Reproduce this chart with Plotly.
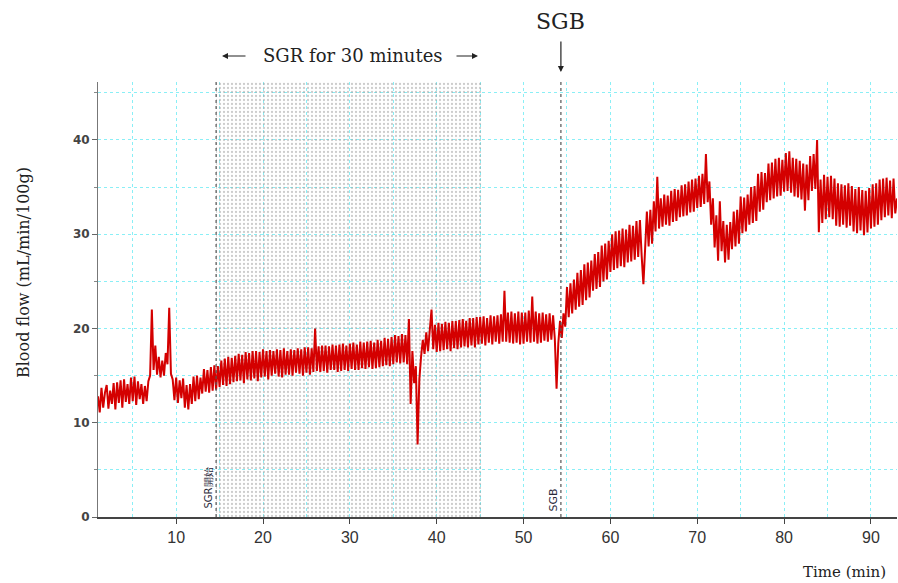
import plotly.graph_objects as go

# ---- data ----
t_start, t_step = 1.0, 0.2
flow = [
    12.8, 11.1, 13.7, 11.6, 13.2,
    14.0, 11.5, 13.4, 12.0, 14.2,
    11.4, 14.3, 12.1, 14.5, 11.6,
    14.6, 12.2, 14.1, 12.0, 14.8,
    12.3, 14.9, 11.9, 14.4, 12.5,
    14.1, 12.0, 13.9, 12.3, 14.4,
    15.0, 22.0, 15.6, 18.2, 15.1,
    17.0, 14.8, 16.6, 15.0, 17.4,
    16.2, 22.2, 15.2, 14.6, 12.4,
    14.8, 12.1, 14.5, 12.6, 14.7,
    11.6, 14.0, 11.4, 14.1, 12.0,
    14.9, 12.3, 15.0, 12.5, 14.8,
    13.1, 15.7, 13.3, 15.6, 13.2,
    15.9, 13.4, 16.1, 13.5, 16.0,
    13.8, 16.6, 14.0, 16.8, 13.9,
    17.0, 14.1, 16.9, 14.3, 17.1,
    14.4, 17.3, 14.5, 17.2, 14.2,
    17.5, 14.6, 17.4, 14.5, 17.6,
    14.7, 17.6, 14.4, 17.5, 14.8,
    17.8, 14.9, 17.6, 14.6, 17.7,
    15.0, 17.6, 15.2, 17.8, 14.9,
    17.7, 14.8, 17.9, 15.1, 17.6,
    15.1, 17.8, 15.0, 17.7, 15.3,
    17.9, 15.2, 17.8, 15.0, 18.0,
    15.3, 18.0, 15.1, 17.9, 15.4,
    20.0, 15.5, 18.1, 15.4, 18.2,
    15.5, 18.2, 15.3, 18.1, 15.6,
    18.3, 15.6, 18.2, 15.4, 18.3,
    15.5, 18.4, 15.6, 18.2, 15.5,
    18.4, 15.7, 18.5, 15.6, 18.3,
    15.6, 18.6, 15.8, 18.5, 15.7,
    18.6, 15.9, 18.7, 15.7, 18.5,
    15.8, 18.8, 15.9, 18.7, 16.0,
    19.0, 16.1, 18.9, 16.0, 19.1,
    16.2, 19.3, 16.4, 19.2, 16.3,
    19.4, 16.4, 19.3, 16.2, 21.0,
    12.0, 17.6, 14.2, 16.0, 7.7,
    14.6, 17.0, 18.8, 17.3, 19.6,
    17.6, 19.9, 22.0, 17.8, 20.4,
    17.5, 20.6, 17.6, 20.5, 17.7,
    20.7, 17.8, 20.6, 17.6, 20.8,
    17.9, 20.8, 17.8, 20.9, 18.0,
    21.0, 18.1, 20.8, 18.0, 21.1,
    18.2, 21.1, 18.0, 21.2, 18.3,
    21.2, 18.4, 21.3, 18.2, 21.1,
    18.5, 21.4, 18.3, 21.3, 18.6,
    21.4, 18.4, 21.5, 18.6, 24.0,
    18.6, 21.7, 18.5, 21.8, 18.4,
    21.6, 18.5, 21.8, 18.3, 21.7,
    18.4, 21.7, 18.6, 21.9, 18.5,
    23.4, 18.6, 21.8, 18.4, 21.6,
    18.5, 21.7, 18.7, 21.5, 18.6,
    21.6, 18.8, 21.4, 18.9, 13.6,
    18.4, 20.8, 19.0, 21.6, 20.2,
    24.4, 21.2, 24.8, 21.6, 25.2,
    22.0, 25.9, 22.3, 26.2, 22.5,
    26.8, 23.0, 27.0, 23.3, 27.2,
    24.0, 27.9, 24.2, 28.1, 24.4,
    28.8, 25.0, 29.0, 25.2, 29.3,
    26.0, 30.0, 26.2, 30.3, 26.4,
    30.4, 26.6, 30.6, 26.5, 30.5,
    27.0, 31.0, 27.1, 30.9, 27.3,
    31.4, 27.6, 31.5, 27.7, 24.7,
    28.5, 32.4, 28.7, 32.6, 29.0,
    33.5, 30.3, 36.1, 30.6, 33.8,
    30.8, 34.2, 31.0, 34.1, 30.9,
    34.6, 31.3, 34.8, 31.4, 34.7,
    31.8, 35.2, 31.9, 35.3, 32.0,
    35.6, 32.3, 35.8, 32.4, 35.9,
    32.8, 36.2, 32.9, 36.4, 33.2,
    38.5, 33.4, 35.6, 31.0, 33.8,
    28.6, 32.0, 27.2, 33.5, 28.2,
    31.4, 27.0, 31.0, 27.3, 31.3,
    28.4, 32.4, 28.7, 32.6, 29.0,
    34.0, 30.1, 33.9, 30.3, 34.2,
    31.0, 35.0, 31.2, 35.1, 31.4,
    36.4, 32.4, 36.6, 32.6, 36.5,
    33.4, 37.5, 33.6, 37.6, 33.8,
    38.0, 34.0, 38.1, 34.1, 37.9,
    34.5, 38.6, 34.6, 38.8, 34.4,
    38.1, 34.0, 38.0, 33.9, 37.8,
    33.7, 37.5, 32.5, 37.4, 33.6,
    38.3, 34.6, 38.5, 34.8, 40.0,
    30.2, 35.8, 31.2, 36.3, 31.6,
    36.1, 31.8, 36.2, 31.6, 35.9,
    30.9, 35.4, 30.8, 35.3, 31.0,
    35.2, 30.7, 35.4, 30.9, 35.1,
    30.3, 34.8, 30.1, 35.0, 30.4,
    34.7, 29.9, 34.6, 30.2, 34.9,
    30.6, 35.3, 30.8, 35.4, 31.0,
    35.8, 31.5, 35.9, 31.8, 36.0,
    32.0, 35.7, 31.7, 35.9, 32.2,
    33.8,
]
time = [t_start + i * t_step for i in range(len(flow))]

sgr_start, sgr_end = 14.6, 45.1
sgb_time = 54.3
x_ticks = [10, 20, 30, 40, 50, 60, 70, 80, 90]
y_ticks = [0, 10, 20, 30, 40]
x_range = [1, 93]
y_range = [0, 46.15]

serif = "DejaVu Serif"
grid_col = "rgba(60,228,240,0.6)"

fig = go.Figure()

# dotted shaded SGR period
fig.add_trace(go.Scatter(
    x=[sgr_start, sgr_end, sgr_end, sgr_start, sgr_start],
    y=[y_range[0], y_range[0], y_range[1], y_range[1], y_range[0]],
    mode="lines", fill="toself", line=dict(width=0),
    fillcolor="rgba(0,0,0,0)",
    fillpattern=dict(shape=".", fgcolor="#9a9a9a", bgcolor="rgba(0,0,0,0)",
                     size=4, solidity=0.25),
    hoverinfo="skip", showlegend=False))

fig.add_trace(go.Scatter(
    x=time, y=flow, mode="lines",
    line=dict(color="#d40000", width=2.0),
    showlegend=False))

fig.update_layout(
    width=898, height=583,
    margin=dict(l=98, r=1, t=82, b=66),
    paper_bgcolor="white", plot_bgcolor="white",
    xaxis=dict(range=x_range, tickvals=x_ticks, ticktext=[str(v) for v in x_ticks],
               showgrid=False, zeroline=False,
               showline=True, linecolor="#444", linewidth=1.5,
               ticks="outside", ticklen=5, tickcolor="#444",
               tickfont=dict(family="Liberation Sans", size=16, color="#333"),
               minor=dict(dtick=5, tick0=0, showgrid=True, gridcolor=grid_col,
                          griddash="dot", gridwidth=1, ticks="")),
    yaxis=dict(range=y_range, tickvals=y_ticks, ticktext=[str(v) for v in y_ticks],
               showgrid=False, zeroline=False,
               showline=True, linecolor="#777", linewidth=1,
               ticks="outside", ticklen=5, tickcolor="#666",
               tickfont=dict(family="DejaVu Sans", size=12, color="#444", weight="bold"),
               minor=dict(dtick=5, tick0=0, showgrid=True, gridcolor=grid_col,
                          griddash="dot", gridwidth=1, ticks="outside", ticklen=3,
                          tickcolor="#888")),
)

# vertical event markers
for xv in [sgr_start, sgb_time]:
    fig.add_shape(type="line", x0=xv, x1=xv, y0=0, y1=1, xref="x", yref="paper",
                  line=dict(color="#555", width=1.2, dash="dot"), layer="above")

ann = []
ann.append(dict(text="Blood flow (mL/min/100g)", xref="paper", yref="paper",
                x=(23 - 98) / 799, y=(517 - 273) / 435, textangle=-90,
                showarrow=False, font=dict(family=serif, size=16, color="#222"),
                xanchor="center", yanchor="middle"))
ann.append(dict(text="Time (min)", xref="paper", yref="paper",
                x=(888 - 98) / 799, y=(517 - 572) / 435, showarrow=False,
                font=dict(family=serif, size=15, color="#222"),
                xanchor="right", yanchor="middle"))
ann.append(dict(text="SGR for 30 minutes", xref="paper", yref="paper",
                x=(353 - 98) / 799, y=(517 - 55) / 435, showarrow=False,
                font=dict(family=serif, size=18, color="#222"),
                xanchor="center", yanchor="middle"))
# side arrows of the SGR label
ann.append(dict(text="", xref="paper", yref="paper",
                x=(222 - 98) / 799, y=(517 - 56) / 435, ax=25, ay=0,
                showarrow=True, arrowhead=2, arrowsize=1, arrowwidth=1.2,
                arrowcolor="#222", standoff=0, startstandoff=0))
ann.append(dict(text="", xref="paper", yref="paper",
                x=(478 - 98) / 799, y=(517 - 56) / 435, ax=-23, ay=0,
                showarrow=True, arrowhead=2, arrowsize=1, arrowwidth=1.2,
                arrowcolor="#222", standoff=0, startstandoff=0))
ann.append(dict(text="SGB", xref="x", yref="paper",
                x=sgb_time, y=(517 - 21) / 435, showarrow=False,
                font=dict(family=serif, size=22, color="#222"),
                xanchor="center", yanchor="middle"))
ann.append(dict(text="", xref="x", yref="paper",
                x=sgb_time, y=(517 - 72) / 435, ax=0, ay=-32,
                showarrow=True, arrowhead=2, arrowsize=1, arrowwidth=1.2,
                arrowcolor="#222", standoff=0, startstandoff=0))
# small rotated marker labels
ann.append(dict(text="SGR開始", xref="paper", yref="paper",
                x=(207.5 - 98) / 799, y=(517 - 488) / 435, textangle=-90,
                showarrow=False, font=dict(family="DejaVu Sans", size=10, color="#2a2a3a"),
                xanchor="center", yanchor="middle"))
ann.append(dict(text="SGB", xref="paper", yref="paper",
                x=(552.5 - 98) / 799, y=(517 - 500) / 435, textangle=-90,
                showarrow=False, font=dict(family="DejaVu Sans", size=11, color="#2a2a3a"),
                xanchor="center", yanchor="middle"))
fig.update_layout(annotations=ann)

fig.write_html("out.html", config={"displayModeBar": False},
               post_script="document.body.style.margin='0';document.body.style.overflow='hidden';")
